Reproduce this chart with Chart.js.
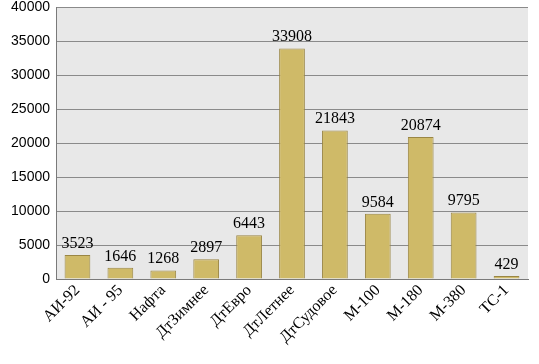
<!DOCTYPE html>
<html>
<head>
<meta charset="utf-8">
<script src="https://cdn.jsdelivr.net/npm/chart.js@4.4.1/dist/chart.umd.min.js"></script>
<style>
  html, body { margin: 0; padding: 0; background: #ffffff; }
  #wrap { width: 539px; height: 364px; }
</style>
</head>
<body>
<div id="wrap"><canvas id="fuelChart" width="539" height="364"></canvas></div>
<script>
const categories = ['АИ-92', 'АИ - 95', 'Нафта', 'ДтЗимнее', 'ДтЕвро', 'ДтЛетнее', 'ДтСудовое', 'М-100', 'М-180', 'М-380', 'ТС-1'];
const volumes = [3523, 1646, 1268, 2897, 6443, 33908, 21843, 9584, 20874, 9795, 429];
const yTicks = [0, 5000, 10000, 15000, 20000, 25000, 30000, 35000, 40000];

// grey plot background
const plotBg = {
  id: 'plotBg',
  beforeDraw(chart) {
    const { ctx, chartArea: a } = chart;
    ctx.save();
    ctx.fillStyle = '#e8e8e8';
    ctx.fillRect(a.left, a.top, a.right - a.left, a.bottom - a.top);
    ctx.restore();
  }
};

// value above each bar
const valueLabels = {
  id: 'valueLabels',
  afterDatasetsDraw(chart) {
    const { ctx } = chart;
    const meta = chart.getDatasetMeta(0);
    ctx.save();
    ctx.font = '16px "Liberation Serif"';
    ctx.fillStyle = '#000000';
    ctx.textAlign = 'center';
    ctx.textBaseline = 'alphabetic';
    meta.data.forEach((bar, i) => {
      ctx.fillText(String(volumes[i]), bar.x, bar.y - 7);
    });
    ctx.restore();
  }
};

const ctx = document.getElementById('fuelChart').getContext('2d');
new Chart(ctx, {
  type: 'bar',
  data: {
    labels: categories,
    datasets: [{
      data: volumes,
      backgroundColor: '#cfba68',
      borderColor: '#9a8644',
      borderWidth: 1,
      barPercentage: 0.6,
      categoryPercentage: 1.0
    }]
  },
  options: {
    responsive: false,
    animation: false,
    layout: { padding: { top: 7, right: 11, left: 0, bottom: 0 } },
    scales: {
      y: {
        min: 0,
        max: 40000,
        afterFit: s => { s.width = 56; s.paddingTop = 0; },
        afterBuildTicks: s => { s.ticks = yTicks.map(v => ({ value: v })); },
        ticks: {
          color: '#000000',
          font: { family: '"Liberation Sans"', size: 14 },
          padding: 6,
          callback: v => String(v)
        },
        grid: { color: '#8a8a8a', lineWidth: 1, drawTicks: false },
        border: { display: true, color: '#7a7a7a', width: 1 }
      },
      x: {
        afterFit: s => { s.height = 85; },
        ticks: {
          color: '#000000',
          font: { family: '"Liberation Serif"', size: 16 },
          minRotation: 45,
          maxRotation: 45,
          autoSkip: false,
          padding: 2
        },
        grid: { display: false, drawTicks: false },
        border: { display: true, color: '#7a7a7a', width: 1 }
      }
    },
    plugins: {
      legend: { display: false },
      tooltip: { enabled: false }
    }
  },
  plugins: [plotBg, valueLabels]
});
</script>
</body>
</html>
